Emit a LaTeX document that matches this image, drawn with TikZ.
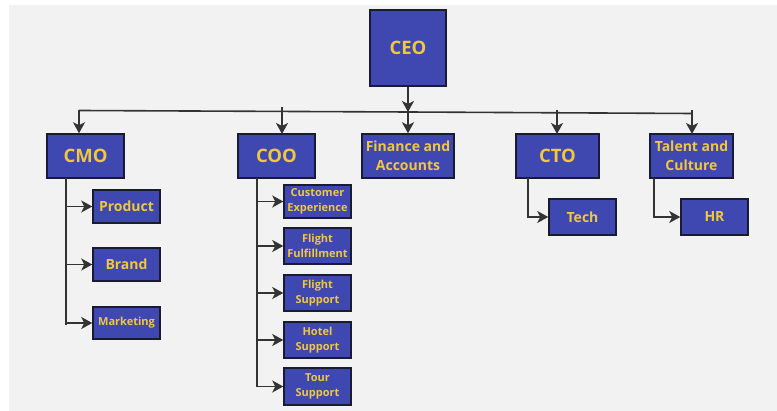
\documentclass[tikz,border=0pt]{standalone}
\usepackage{fontspec}
\setmainfont{Open Sans}
\usetikzlibrary{arrows.meta}
\definecolor{boxfill}{HTML}{3F47B1}
\definecolor{boxline}{HTML}{1A1A30}
\definecolor{boxtext}{HTML}{F0C83E}
\definecolor{linec}{HTML}{333333}
\definecolor{bg}{HTML}{F2F2F2}
\tikzset{
  box/.style={draw=boxline, line width=1.5pt, fill=boxfill, text=boxtext,
    font=\bfseries, align=center, inner sep=0pt},
  big/.style={font=\fontsize{18.5}{20}\selectfont\bfseries},
  mid/.style={font=\fontsize{14}{19}\selectfont\bfseries},
  small/.style={font=\fontsize{11}{15}\selectfont\bfseries},
  conn/.style={draw=linec, line width=1.6pt},
  arr/.style={conn, -{Stealth[length=11pt,width=12pt,inset=3pt]}}
}
\begin{document}
\begin{tikzpicture}[x=1pt,y=-1pt]
\useasboundingbox (0,0) rectangle (777,411);
\fill[white] (0,0) rectangle (777,411);
\fill[bg] (9,5) rectangle (777,411);
% top
\node[box,big,minimum width=76pt,minimum height=76pt] (ceo) at (408,48) {CEO};
% level 2
\node[box,big,minimum width=77pt,minimum height=44pt] (cmo) at (85.5,156) {CMO};
\node[box,big,minimum width=77pt,minimum height=44pt] (coo) at (276.5,156) {COO};
\node[box,mid,minimum width=92pt,minimum height=44pt] (fin) at (408,156) {Finance and\\Accounts};
\node[box,big,minimum width=83pt,minimum height=44pt] (cto) at (557.5,156) {CTO};
\node[box,mid,minimum width=83pt,minimum height=44pt] (tal) at (691.5,156) {Talent and\\Culture};
% CMO children
\node[box,mid,minimum width=67pt,minimum height=33pt] (prod) at (126.5,206.5) {Product};
\node[box,mid,minimum width=67pt,minimum height=33pt] (brand) at (126.5,264.5) {Brand};
\node[box,small,minimum width=67pt,minimum height=32pt] (mkt) at (126.5,323) {Marketing};
% COO children
\node[box,small,minimum width=67pt,minimum height=33pt] (cx) at (317.5,201.5) {Customer\\Experience};
\node[box,small,minimum width=67pt,minimum height=36pt] (ff) at (317.5,246) {Flight\\Fulfillment};
\node[box,small,minimum width=67pt,minimum height=36pt] (fs) at (317.5,293) {Flight\\Support};
\node[box,small,minimum width=67pt,minimum height=36pt] (hs) at (317.5,340) {Hotel\\Support};
\node[box,small,minimum width=67pt,minimum height=37pt] (ts) at (317.5,386.5) {Tour\\Support};
% CTO / Talent children
\node[box,mid,minimum width=67pt,minimum height=36pt] (tech) at (582.5,217) {Tech};
\node[box,mid,minimum width=67pt,minimum height=36pt] (hr) at (714.5,217) {HR};
% bus
\coordinate (busL) at (79,110.5);
\coordinate (busR) at (692,113.5);
\coordinate (busC) at (408,112);
\draw[conn] (busL) -- (busC) -- (busR);
\draw[arr] (ceo.south) -- (busC);
\draw[arr] (busL) -- (busL |- cmo.north);
\draw[arr] (282,107) -- (282,134);
\draw[arr] (busC) -- (fin.north);
\draw[arr] (557,110) -- (557,134);
\draw[arr] (692,110) -- (692,134);
% CMO trunk
\coordinate (cmoT) at (66,178);
\coordinate (cmoB) at (66,325);
\draw[conn] (cmoT) -- (cmoB);
\foreach \n in {prod,brand,mkt} \draw[arr] (\n.west -| cmoT) -- (\n.west);
% COO trunk
\coordinate (cooT) at (257,178);
\coordinate (cooB) at (257,387);
\draw[conn] (cooT) -- (cooB);
\foreach \n in {cx,ff,fs,hs,ts} \draw[arr] (\n.west -| cooT) -- (\n.west);
% CTO, Talent
\draw[arr] (528,178) |- (tech.west);
\draw[arr] (654,178) |- (hr.west);
\end{tikzpicture}
\end{document}
